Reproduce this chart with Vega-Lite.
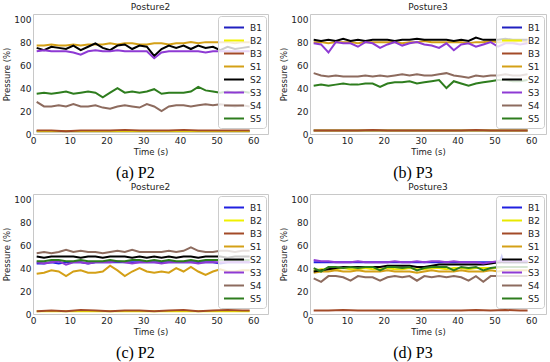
{
"$schema": "https://vega.github.io/schema/vega-lite/v6.json",
"background": "white",
"padding": {"left": 2, "top": 2, "right": 2, "bottom": 2},
"config": {
  "view": {"stroke": "#c8c8c8", "strokeWidth": 1},
  "axis": {"grid": false, "ticks": false, "domain": false, "labelFont": "DejaVu Sans", "labelFontSize": 9, "labelColor": "#222", "labelPadding": 2, "labelFlush": false, "labelOverlap": false, "titleFont": "DejaVu Sans", "titleFontSize": 8.5, "titleFontWeight": "normal", "titleColor": "#222", "titlePadding": 2},
  "title": {"font": "DejaVu Sans", "fontSize": 9, "fontWeight": "normal", "color": "#222", "offset": 2, "anchor": "middle"},
  "legend": {"orient": "top-right", "offset": 2, "title": null, "symbolType": "M-0.85,0H2.23", "symbolSize": 169, "symbolStrokeWidth": 2, "labelFont": "DejaVu Sans", "labelFontSize": 9, "labelColor": "#222", "labelOffset": 13, "fillColor": "rgba(255,255,255,0.8)", "strokeColor": "#cccccc", "cornerRadius": 3, "padding": 4, "rowPadding": 0}
},
"datasets": {"d": [
{"g":"a","s":"B1","t":1,"v":2.5},{"g":"a","s":"B1","t":15,"v":2.5},{"g":"a","s":"B1","t":30,"v":2.5},{"g":"a","s":"B1","t":45,"v":2.5},{"g":"a","s":"B1","t":59,"v":2.5},
{"g":"a","s":"B2","t":1,"v":2.5},{"g":"a","s":"B2","t":15,"v":2.5},{"g":"a","s":"B2","t":30,"v":2.5},{"g":"a","s":"B2","t":45,"v":2.5},{"g":"a","s":"B2","t":59,"v":2.5},
{"g":"a","s":"B3","t":1,"v":3},{"g":"a","s":"B3","t":5,"v":3},{"g":"a","s":"B3","t":9,"v":2.5},{"g":"a","s":"B3","t":13,"v":3},{"g":"a","s":"B3","t":17,"v":3},{"g":"a","s":"B3","t":21,"v":3},{"g":"a","s":"B3","t":25,"v":3.5},{"g":"a","s":"B3","t":29,"v":3},{"g":"a","s":"B3","t":33,"v":3},{"g":"a","s":"B3","t":37,"v":3},{"g":"a","s":"B3","t":41,"v":3.5},{"g":"a","s":"B3","t":45,"v":3},{"g":"a","s":"B3","t":49,"v":3},{"g":"a","s":"B3","t":53,"v":3},{"g":"a","s":"B3","t":57,"v":3},{"g":"a","s":"B3","t":59,"v":3},
{"g":"a","s":"S1","t":1,"v":77},{"g":"a","s":"S1","t":3,"v":77},{"g":"a","s":"S1","t":5,"v":78},{"g":"a","s":"S1","t":7,"v":77},{"g":"a","s":"S1","t":9,"v":77},{"g":"a","s":"S1","t":11,"v":78},{"g":"a","s":"S1","t":13,"v":77},{"g":"a","s":"S1","t":15,"v":78},{"g":"a","s":"S1","t":17,"v":78},{"g":"a","s":"S1","t":19,"v":78},{"g":"a","s":"S1","t":21,"v":79},{"g":"a","s":"S1","t":23,"v":78},{"g":"a","s":"S1","t":25,"v":79},{"g":"a","s":"S1","t":27,"v":79},{"g":"a","s":"S1","t":29,"v":78},{"g":"a","s":"S1","t":31,"v":78},{"g":"a","s":"S1","t":33,"v":79},{"g":"a","s":"S1","t":35,"v":79},{"g":"a","s":"S1","t":37,"v":78},{"g":"a","s":"S1","t":39,"v":79},{"g":"a","s":"S1","t":41,"v":79},{"g":"a","s":"S1","t":43,"v":80},{"g":"a","s":"S1","t":45,"v":79},{"g":"a","s":"S1","t":47,"v":80},{"g":"a","s":"S1","t":49,"v":80},{"g":"a","s":"S1","t":51,"v":80},{"g":"a","s":"S1","t":53,"v":80},{"g":"a","s":"S1","t":55,"v":79},{"g":"a","s":"S1","t":57,"v":80},{"g":"a","s":"S1","t":59,"v":80},
{"g":"a","s":"S2","t":1,"v":75},{"g":"a","s":"S2","t":3,"v":73},{"g":"a","s":"S2","t":5,"v":76},{"g":"a","s":"S2","t":7,"v":75},{"g":"a","s":"S2","t":9,"v":74},{"g":"a","s":"S2","t":11,"v":77},{"g":"a","s":"S2","t":13,"v":73},{"g":"a","s":"S2","t":15,"v":76},{"g":"a","s":"S2","t":17,"v":79},{"g":"a","s":"S2","t":19,"v":75},{"g":"a","s":"S2","t":21,"v":73},{"g":"a","s":"S2","t":23,"v":77},{"g":"a","s":"S2","t":25,"v":78},{"g":"a","s":"S2","t":27,"v":74},{"g":"a","s":"S2","t":29,"v":77},{"g":"a","s":"S2","t":31,"v":76},{"g":"a","s":"S2","t":33,"v":68},{"g":"a","s":"S2","t":35,"v":74},{"g":"a","s":"S2","t":37,"v":77},{"g":"a","s":"S2","t":39,"v":75},{"g":"a","s":"S2","t":41,"v":77},{"g":"a","s":"S2","t":43,"v":74},{"g":"a","s":"S2","t":45,"v":77},{"g":"a","s":"S2","t":47,"v":75},{"g":"a","s":"S2","t":49,"v":76},{"g":"a","s":"S2","t":51,"v":73},{"g":"a","s":"S2","t":53,"v":76},{"g":"a","s":"S2","t":55,"v":74},{"g":"a","s":"S2","t":57,"v":75},{"g":"a","s":"S2","t":59,"v":76},
{"g":"a","s":"S3","t":1,"v":72},{"g":"a","s":"S3","t":3,"v":73},{"g":"a","s":"S3","t":5,"v":72},{"g":"a","s":"S3","t":7,"v":72},{"g":"a","s":"S3","t":9,"v":72},{"g":"a","s":"S3","t":11,"v":71},{"g":"a","s":"S3","t":13,"v":69},{"g":"a","s":"S3","t":15,"v":72},{"g":"a","s":"S3","t":17,"v":73},{"g":"a","s":"S3","t":19,"v":72},{"g":"a","s":"S3","t":21,"v":72},{"g":"a","s":"S3","t":23,"v":73},{"g":"a","s":"S3","t":25,"v":72},{"g":"a","s":"S3","t":27,"v":72},{"g":"a","s":"S3","t":29,"v":72},{"g":"a","s":"S3","t":31,"v":72},{"g":"a","s":"S3","t":33,"v":66},{"g":"a","s":"S3","t":35,"v":71},{"g":"a","s":"S3","t":37,"v":72},{"g":"a","s":"S3","t":39,"v":72},{"g":"a","s":"S3","t":41,"v":72},{"g":"a","s":"S3","t":43,"v":72},{"g":"a","s":"S3","t":45,"v":72},{"g":"a","s":"S3","t":47,"v":71},{"g":"a","s":"S3","t":49,"v":72},{"g":"a","s":"S3","t":51,"v":72},{"g":"a","s":"S3","t":53,"v":72},{"g":"a","s":"S3","t":55,"v":72},{"g":"a","s":"S3","t":57,"v":72},{"g":"a","s":"S3","t":59,"v":72},
{"g":"a","s":"S4","t":1,"v":28},{"g":"a","s":"S4","t":3,"v":24},{"g":"a","s":"S4","t":5,"v":24},{"g":"a","s":"S4","t":7,"v":25},{"g":"a","s":"S4","t":9,"v":24},{"g":"a","s":"S4","t":11,"v":26},{"g":"a","s":"S4","t":13,"v":24},{"g":"a","s":"S4","t":15,"v":24},{"g":"a","s":"S4","t":17,"v":25},{"g":"a","s":"S4","t":19,"v":23},{"g":"a","s":"S4","t":21,"v":22},{"g":"a","s":"S4","t":23,"v":24},{"g":"a","s":"S4","t":25,"v":25},{"g":"a","s":"S4","t":27,"v":24},{"g":"a","s":"S4","t":29,"v":23},{"g":"a","s":"S4","t":31,"v":26},{"g":"a","s":"S4","t":33,"v":24},{"g":"a","s":"S4","t":35,"v":20},{"g":"a","s":"S4","t":37,"v":24},{"g":"a","s":"S4","t":39,"v":25},{"g":"a","s":"S4","t":41,"v":25},{"g":"a","s":"S4","t":43,"v":24},{"g":"a","s":"S4","t":45,"v":25},{"g":"a","s":"S4","t":47,"v":26},{"g":"a","s":"S4","t":49,"v":25},{"g":"a","s":"S4","t":51,"v":26},{"g":"a","s":"S4","t":53,"v":25},{"g":"a","s":"S4","t":55,"v":24},{"g":"a","s":"S4","t":57,"v":25},{"g":"a","s":"S4","t":59,"v":24},
{"g":"a","s":"S5","t":1,"v":35},{"g":"a","s":"S5","t":3,"v":36},{"g":"a","s":"S5","t":5,"v":35},{"g":"a","s":"S5","t":7,"v":36},{"g":"a","s":"S5","t":9,"v":37},{"g":"a","s":"S5","t":11,"v":35},{"g":"a","s":"S5","t":13,"v":36},{"g":"a","s":"S5","t":15,"v":37},{"g":"a","s":"S5","t":17,"v":36},{"g":"a","s":"S5","t":19,"v":32},{"g":"a","s":"S5","t":21,"v":36},{"g":"a","s":"S5","t":23,"v":40},{"g":"a","s":"S5","t":25,"v":36},{"g":"a","s":"S5","t":27,"v":37},{"g":"a","s":"S5","t":29,"v":36},{"g":"a","s":"S5","t":31,"v":37},{"g":"a","s":"S5","t":33,"v":39},{"g":"a","s":"S5","t":35,"v":35},{"g":"a","s":"S5","t":37,"v":36},{"g":"a","s":"S5","t":39,"v":36},{"g":"a","s":"S5","t":41,"v":36},{"g":"a","s":"S5","t":43,"v":37},{"g":"a","s":"S5","t":45,"v":41},{"g":"a","s":"S5","t":47,"v":38},{"g":"a","s":"S5","t":49,"v":37},{"g":"a","s":"S5","t":51,"v":36},{"g":"a","s":"S5","t":53,"v":37},{"g":"a","s":"S5","t":55,"v":36},{"g":"a","s":"S5","t":57,"v":37},{"g":"a","s":"S5","t":59,"v":36},
{"g":"b","s":"B1","t":1,"v":3},{"g":"b","s":"B1","t":15,"v":3},{"g":"b","s":"B1","t":30,"v":3},{"g":"b","s":"B1","t":45,"v":3},{"g":"b","s":"B1","t":59,"v":3},
{"g":"b","s":"B2","t":1,"v":3},{"g":"b","s":"B2","t":15,"v":3},{"g":"b","s":"B2","t":30,"v":3},{"g":"b","s":"B2","t":45,"v":3},{"g":"b","s":"B2","t":59,"v":3},
{"g":"b","s":"B3","t":1,"v":3},{"g":"b","s":"B3","t":5,"v":3},{"g":"b","s":"B3","t":9,"v":3},{"g":"b","s":"B3","t":13,"v":3},{"g":"b","s":"B3","t":17,"v":3.5},{"g":"b","s":"B3","t":21,"v":3},{"g":"b","s":"B3","t":25,"v":3},{"g":"b","s":"B3","t":29,"v":3},{"g":"b","s":"B3","t":33,"v":3},{"g":"b","s":"B3","t":37,"v":3},{"g":"b","s":"B3","t":41,"v":3},{"g":"b","s":"B3","t":45,"v":3.5},{"g":"b","s":"B3","t":49,"v":3},{"g":"b","s":"B3","t":53,"v":3},{"g":"b","s":"B3","t":57,"v":3},{"g":"b","s":"B3","t":59,"v":3},
{"g":"b","s":"S1","t":1,"v":80},{"g":"b","s":"S1","t":3,"v":80},{"g":"b","s":"S1","t":5,"v":79},{"g":"b","s":"S1","t":7,"v":80},{"g":"b","s":"S1","t":9,"v":80},{"g":"b","s":"S1","t":11,"v":80},{"g":"b","s":"S1","t":13,"v":79},{"g":"b","s":"S1","t":15,"v":80},{"g":"b","s":"S1","t":17,"v":80},{"g":"b","s":"S1","t":19,"v":80},{"g":"b","s":"S1","t":21,"v":80},{"g":"b","s":"S1","t":23,"v":80},{"g":"b","s":"S1","t":25,"v":79},{"g":"b","s":"S1","t":27,"v":80},{"g":"b","s":"S1","t":29,"v":80},{"g":"b","s":"S1","t":31,"v":81},{"g":"b","s":"S1","t":33,"v":80},{"g":"b","s":"S1","t":35,"v":80},{"g":"b","s":"S1","t":37,"v":80},{"g":"b","s":"S1","t":39,"v":80},{"g":"b","s":"S1","t":41,"v":80},{"g":"b","s":"S1","t":43,"v":79},{"g":"b","s":"S1","t":45,"v":80},{"g":"b","s":"S1","t":47,"v":80},{"g":"b","s":"S1","t":49,"v":81},{"g":"b","s":"S1","t":51,"v":80},{"g":"b","s":"S1","t":53,"v":80},{"g":"b","s":"S1","t":55,"v":80},{"g":"b","s":"S1","t":57,"v":81},{"g":"b","s":"S1","t":59,"v":80},
{"g":"b","s":"S2","t":1,"v":82},{"g":"b","s":"S2","t":3,"v":81},{"g":"b","s":"S2","t":5,"v":82},{"g":"b","s":"S2","t":7,"v":81},{"g":"b","s":"S2","t":9,"v":83},{"g":"b","s":"S2","t":11,"v":81},{"g":"b","s":"S2","t":13,"v":82},{"g":"b","s":"S2","t":15,"v":81},{"g":"b","s":"S2","t":17,"v":82},{"g":"b","s":"S2","t":19,"v":82},{"g":"b","s":"S2","t":21,"v":82},{"g":"b","s":"S2","t":23,"v":81},{"g":"b","s":"S2","t":25,"v":82},{"g":"b","s":"S2","t":27,"v":82},{"g":"b","s":"S2","t":29,"v":83},{"g":"b","s":"S2","t":31,"v":82},{"g":"b","s":"S2","t":33,"v":82},{"g":"b","s":"S2","t":35,"v":82},{"g":"b","s":"S2","t":37,"v":82},{"g":"b","s":"S2","t":39,"v":81},{"g":"b","s":"S2","t":41,"v":82},{"g":"b","s":"S2","t":43,"v":81},{"g":"b","s":"S2","t":45,"v":84},{"g":"b","s":"S2","t":47,"v":82},{"g":"b","s":"S2","t":49,"v":82},{"g":"b","s":"S2","t":51,"v":82},{"g":"b","s":"S2","t":53,"v":83},{"g":"b","s":"S2","t":55,"v":82},{"g":"b","s":"S2","t":57,"v":82},{"g":"b","s":"S2","t":59,"v":82},
{"g":"b","s":"S3","t":1,"v":79},{"g":"b","s":"S3","t":3,"v":78},{"g":"b","s":"S3","t":5,"v":71},{"g":"b","s":"S3","t":7,"v":80},{"g":"b","s":"S3","t":9,"v":79},{"g":"b","s":"S3","t":11,"v":79},{"g":"b","s":"S3","t":13,"v":76},{"g":"b","s":"S3","t":15,"v":80},{"g":"b","s":"S3","t":17,"v":79},{"g":"b","s":"S3","t":19,"v":75},{"g":"b","s":"S3","t":21,"v":78},{"g":"b","s":"S3","t":23,"v":80},{"g":"b","s":"S3","t":25,"v":77},{"g":"b","s":"S3","t":27,"v":79},{"g":"b","s":"S3","t":29,"v":80},{"g":"b","s":"S3","t":31,"v":78},{"g":"b","s":"S3","t":33,"v":77},{"g":"b","s":"S3","t":35,"v":75},{"g":"b","s":"S3","t":37,"v":79},{"g":"b","s":"S3","t":39,"v":73},{"g":"b","s":"S3","t":41,"v":78},{"g":"b","s":"S3","t":43,"v":79},{"g":"b","s":"S3","t":45,"v":76},{"g":"b","s":"S3","t":47,"v":78},{"g":"b","s":"S3","t":49,"v":80},{"g":"b","s":"S3","t":51,"v":76},{"g":"b","s":"S3","t":53,"v":79},{"g":"b","s":"S3","t":55,"v":79},{"g":"b","s":"S3","t":57,"v":78},{"g":"b","s":"S3","t":59,"v":79},
{"g":"b","s":"S4","t":1,"v":53},{"g":"b","s":"S4","t":3,"v":51},{"g":"b","s":"S4","t":5,"v":50},{"g":"b","s":"S4","t":7,"v":51},{"g":"b","s":"S4","t":9,"v":50},{"g":"b","s":"S4","t":11,"v":50},{"g":"b","s":"S4","t":13,"v":50},{"g":"b","s":"S4","t":15,"v":51},{"g":"b","s":"S4","t":17,"v":50},{"g":"b","s":"S4","t":19,"v":51},{"g":"b","s":"S4","t":21,"v":50},{"g":"b","s":"S4","t":23,"v":51},{"g":"b","s":"S4","t":25,"v":52},{"g":"b","s":"S4","t":27,"v":51},{"g":"b","s":"S4","t":29,"v":52},{"g":"b","s":"S4","t":31,"v":51},{"g":"b","s":"S4","t":33,"v":51},{"g":"b","s":"S4","t":35,"v":52},{"g":"b","s":"S4","t":37,"v":53},{"g":"b","s":"S4","t":39,"v":51},{"g":"b","s":"S4","t":41,"v":50},{"g":"b","s":"S4","t":43,"v":49},{"g":"b","s":"S4","t":45,"v":51},{"g":"b","s":"S4","t":47,"v":50},{"g":"b","s":"S4","t":49,"v":51},{"g":"b","s":"S4","t":51,"v":51},{"g":"b","s":"S4","t":53,"v":52},{"g":"b","s":"S4","t":55,"v":51},{"g":"b","s":"S4","t":57,"v":51},{"g":"b","s":"S4","t":59,"v":52},
{"g":"b","s":"S5","t":1,"v":42},{"g":"b","s":"S5","t":3,"v":43},{"g":"b","s":"S5","t":5,"v":42},{"g":"b","s":"S5","t":7,"v":43},{"g":"b","s":"S5","t":9,"v":44},{"g":"b","s":"S5","t":11,"v":43},{"g":"b","s":"S5","t":13,"v":43},{"g":"b","s":"S5","t":15,"v":44},{"g":"b","s":"S5","t":17,"v":44},{"g":"b","s":"S5","t":19,"v":41},{"g":"b","s":"S5","t":21,"v":44},{"g":"b","s":"S5","t":23,"v":45},{"g":"b","s":"S5","t":25,"v":45},{"g":"b","s":"S5","t":27,"v":46},{"g":"b","s":"S5","t":29,"v":44},{"g":"b","s":"S5","t":31,"v":45},{"g":"b","s":"S5","t":33,"v":46},{"g":"b","s":"S5","t":35,"v":47},{"g":"b","s":"S5","t":37,"v":40},{"g":"b","s":"S5","t":39,"v":46},{"g":"b","s":"S5","t":41,"v":44},{"g":"b","s":"S5","t":43,"v":42},{"g":"b","s":"S5","t":45,"v":44},{"g":"b","s":"S5","t":47,"v":45},{"g":"b","s":"S5","t":49,"v":46},{"g":"b","s":"S5","t":51,"v":47},{"g":"b","s":"S5","t":53,"v":47},{"g":"b","s":"S5","t":55,"v":46},{"g":"b","s":"S5","t":57,"v":46},{"g":"b","s":"S5","t":59,"v":47},
{"g":"c","s":"B1","t":1,"v":44},{"g":"c","s":"B1","t":3,"v":44},{"g":"c","s":"B1","t":5,"v":45},{"g":"c","s":"B1","t":7,"v":44},{"g":"c","s":"B1","t":9,"v":45},{"g":"c","s":"B1","t":11,"v":45},{"g":"c","s":"B1","t":13,"v":45},{"g":"c","s":"B1","t":15,"v":44},{"g":"c","s":"B1","t":17,"v":45},{"g":"c","s":"B1","t":19,"v":45},{"g":"c","s":"B1","t":21,"v":45},{"g":"c","s":"B1","t":23,"v":45},{"g":"c","s":"B1","t":25,"v":45},{"g":"c","s":"B1","t":27,"v":45},{"g":"c","s":"B1","t":29,"v":45},{"g":"c","s":"B1","t":31,"v":45},{"g":"c","s":"B1","t":33,"v":45},{"g":"c","s":"B1","t":35,"v":45},{"g":"c","s":"B1","t":37,"v":45},{"g":"c","s":"B1","t":39,"v":45},{"g":"c","s":"B1","t":41,"v":45},{"g":"c","s":"B1","t":43,"v":45},{"g":"c","s":"B1","t":45,"v":45},{"g":"c","s":"B1","t":47,"v":45},{"g":"c","s":"B1","t":49,"v":45},{"g":"c","s":"B1","t":51,"v":44},{"g":"c","s":"B1","t":53,"v":45},{"g":"c","s":"B1","t":55,"v":45},{"g":"c","s":"B1","t":57,"v":45},{"g":"c","s":"B1","t":59,"v":45},
{"g":"c","s":"B2","t":1,"v":2.5},{"g":"c","s":"B2","t":15,"v":2.5},{"g":"c","s":"B2","t":30,"v":2.5},{"g":"c","s":"B2","t":45,"v":2.5},{"g":"c","s":"B2","t":59,"v":2.5},
{"g":"c","s":"B3","t":1,"v":2.5},{"g":"c","s":"B3","t":5,"v":3},{"g":"c","s":"B3","t":9,"v":2.5},{"g":"c","s":"B3","t":13,"v":3.5},{"g":"c","s":"B3","t":17,"v":3},{"g":"c","s":"B3","t":21,"v":2.5},{"g":"c","s":"B3","t":25,"v":3},{"g":"c","s":"B3","t":29,"v":3},{"g":"c","s":"B3","t":33,"v":2.5},{"g":"c","s":"B3","t":37,"v":3},{"g":"c","s":"B3","t":41,"v":3.5},{"g":"c","s":"B3","t":45,"v":2.5},{"g":"c","s":"B3","t":49,"v":3},{"g":"c","s":"B3","t":53,"v":3.5},{"g":"c","s":"B3","t":57,"v":3},{"g":"c","s":"B3","t":59,"v":3},
{"g":"c","s":"S1","t":1,"v":35},{"g":"c","s":"S1","t":3,"v":36},{"g":"c","s":"S1","t":5,"v":38},{"g":"c","s":"S1","t":7,"v":37},{"g":"c","s":"S1","t":9,"v":33},{"g":"c","s":"S1","t":11,"v":37},{"g":"c","s":"S1","t":13,"v":38},{"g":"c","s":"S1","t":15,"v":36},{"g":"c","s":"S1","t":17,"v":36},{"g":"c","s":"S1","t":19,"v":37},{"g":"c","s":"S1","t":21,"v":42},{"g":"c","s":"S1","t":23,"v":38},{"g":"c","s":"S1","t":25,"v":33},{"g":"c","s":"S1","t":27,"v":37},{"g":"c","s":"S1","t":29,"v":40},{"g":"c","s":"S1","t":31,"v":37},{"g":"c","s":"S1","t":33,"v":36},{"g":"c","s":"S1","t":35,"v":37},{"g":"c","s":"S1","t":37,"v":36},{"g":"c","s":"S1","t":39,"v":40},{"g":"c","s":"S1","t":41,"v":37},{"g":"c","s":"S1","t":43,"v":41},{"g":"c","s":"S1","t":45,"v":37},{"g":"c","s":"S1","t":47,"v":34},{"g":"c","s":"S1","t":49,"v":37},{"g":"c","s":"S1","t":51,"v":39},{"g":"c","s":"S1","t":53,"v":37},{"g":"c","s":"S1","t":55,"v":37},{"g":"c","s":"S1","t":57,"v":38},{"g":"c","s":"S1","t":59,"v":38},
{"g":"c","s":"S2","t":1,"v":50},{"g":"c","s":"S2","t":3,"v":49},{"g":"c","s":"S2","t":5,"v":50},{"g":"c","s":"S2","t":7,"v":50},{"g":"c","s":"S2","t":9,"v":50},{"g":"c","s":"S2","t":11,"v":50},{"g":"c","s":"S2","t":13,"v":49},{"g":"c","s":"S2","t":15,"v":50},{"g":"c","s":"S2","t":17,"v":50},{"g":"c","s":"S2","t":19,"v":49},{"g":"c","s":"S2","t":21,"v":50},{"g":"c","s":"S2","t":23,"v":50},{"g":"c","s":"S2","t":25,"v":50},{"g":"c","s":"S2","t":27,"v":49},{"g":"c","s":"S2","t":29,"v":50},{"g":"c","s":"S2","t":31,"v":49},{"g":"c","s":"S2","t":33,"v":50},{"g":"c","s":"S2","t":35,"v":49},{"g":"c","s":"S2","t":37,"v":50},{"g":"c","s":"S2","t":39,"v":49},{"g":"c","s":"S2","t":41,"v":50},{"g":"c","s":"S2","t":43,"v":50},{"g":"c","s":"S2","t":45,"v":49},{"g":"c","s":"S2","t":47,"v":50},{"g":"c","s":"S2","t":49,"v":50},{"g":"c","s":"S2","t":51,"v":50},{"g":"c","s":"S2","t":53,"v":49},{"g":"c","s":"S2","t":55,"v":50},{"g":"c","s":"S2","t":57,"v":50},{"g":"c","s":"S2","t":59,"v":50},
{"g":"c","s":"S3","t":1,"v":45},{"g":"c","s":"S3","t":3,"v":44},{"g":"c","s":"S3","t":5,"v":45},{"g":"c","s":"S3","t":7,"v":46},{"g":"c","s":"S3","t":9,"v":43},{"g":"c","s":"S3","t":11,"v":45},{"g":"c","s":"S3","t":13,"v":45},{"g":"c","s":"S3","t":15,"v":44},{"g":"c","s":"S3","t":17,"v":45},{"g":"c","s":"S3","t":19,"v":45},{"g":"c","s":"S3","t":21,"v":45},{"g":"c","s":"S3","t":23,"v":46},{"g":"c","s":"S3","t":25,"v":45},{"g":"c","s":"S3","t":27,"v":44},{"g":"c","s":"S3","t":29,"v":45},{"g":"c","s":"S3","t":31,"v":45},{"g":"c","s":"S3","t":33,"v":45},{"g":"c","s":"S3","t":35,"v":44},{"g":"c","s":"S3","t":37,"v":45},{"g":"c","s":"S3","t":39,"v":45},{"g":"c","s":"S3","t":41,"v":45},{"g":"c","s":"S3","t":43,"v":45},{"g":"c","s":"S3","t":45,"v":44},{"g":"c","s":"S3","t":47,"v":45},{"g":"c","s":"S3","t":49,"v":45},{"g":"c","s":"S3","t":51,"v":45},{"g":"c","s":"S3","t":53,"v":45},{"g":"c","s":"S3","t":55,"v":45},{"g":"c","s":"S3","t":57,"v":45},{"g":"c","s":"S3","t":59,"v":45},
{"g":"c","s":"S4","t":1,"v":53},{"g":"c","s":"S4","t":3,"v":54},{"g":"c","s":"S4","t":5,"v":53},{"g":"c","s":"S4","t":7,"v":54},{"g":"c","s":"S4","t":9,"v":56},{"g":"c","s":"S4","t":11,"v":54},{"g":"c","s":"S4","t":13,"v":55},{"g":"c","s":"S4","t":15,"v":54},{"g":"c","s":"S4","t":17,"v":54},{"g":"c","s":"S4","t":19,"v":53},{"g":"c","s":"S4","t":21,"v":54},{"g":"c","s":"S4","t":23,"v":55},{"g":"c","s":"S4","t":25,"v":54},{"g":"c","s":"S4","t":27,"v":56},{"g":"c","s":"S4","t":29,"v":54},{"g":"c","s":"S4","t":31,"v":54},{"g":"c","s":"S4","t":33,"v":54},{"g":"c","s":"S4","t":35,"v":54},{"g":"c","s":"S4","t":37,"v":55},{"g":"c","s":"S4","t":39,"v":54},{"g":"c","s":"S4","t":41,"v":55},{"g":"c","s":"S4","t":43,"v":58},{"g":"c","s":"S4","t":45,"v":55},{"g":"c","s":"S4","t":47,"v":54},{"g":"c","s":"S4","t":49,"v":54},{"g":"c","s":"S4","t":51,"v":55},{"g":"c","s":"S4","t":53,"v":55},{"g":"c","s":"S4","t":55,"v":54},{"g":"c","s":"S4","t":57,"v":55},{"g":"c","s":"S4","t":59,"v":55},
{"g":"c","s":"S5","t":1,"v":46},{"g":"c","s":"S5","t":3,"v":46},{"g":"c","s":"S5","t":5,"v":47},{"g":"c","s":"S5","t":7,"v":47},{"g":"c","s":"S5","t":9,"v":46},{"g":"c","s":"S5","t":11,"v":46},{"g":"c","s":"S5","t":13,"v":47},{"g":"c","s":"S5","t":15,"v":46},{"g":"c","s":"S5","t":17,"v":46},{"g":"c","s":"S5","t":19,"v":46},{"g":"c","s":"S5","t":21,"v":47},{"g":"c","s":"S5","t":23,"v":46},{"g":"c","s":"S5","t":25,"v":46},{"g":"c","s":"S5","t":27,"v":47},{"g":"c","s":"S5","t":29,"v":47},{"g":"c","s":"S5","t":31,"v":46},{"g":"c","s":"S5","t":33,"v":47},{"g":"c","s":"S5","t":35,"v":46},{"g":"c","s":"S5","t":37,"v":47},{"g":"c","s":"S5","t":39,"v":46},{"g":"c","s":"S5","t":41,"v":46},{"g":"c","s":"S5","t":43,"v":47},{"g":"c","s":"S5","t":45,"v":46},{"g":"c","s":"S5","t":47,"v":47},{"g":"c","s":"S5","t":49,"v":47},{"g":"c","s":"S5","t":51,"v":47},{"g":"c","s":"S5","t":53,"v":47},{"g":"c","s":"S5","t":55,"v":47},{"g":"c","s":"S5","t":57,"v":47},{"g":"c","s":"S5","t":59,"v":47},
{"g":"d","s":"B1","t":1,"v":45},{"g":"d","s":"B1","t":9,"v":45},{"g":"d","s":"B1","t":17,"v":45},{"g":"d","s":"B1","t":25,"v":45},{"g":"d","s":"B1","t":33,"v":45},{"g":"d","s":"B1","t":41,"v":45},{"g":"d","s":"B1","t":49,"v":45},{"g":"d","s":"B1","t":51.5,"v":45},{"g":"d","s":"B1","t":52,"v":50},{"g":"d","s":"B1","t":52.5,"v":45},{"g":"d","s":"B1","t":59,"v":45},
{"g":"d","s":"B2","t":1,"v":38},{"g":"d","s":"B2","t":3,"v":39},{"g":"d","s":"B2","t":5,"v":39},{"g":"d","s":"B2","t":7,"v":39},{"g":"d","s":"B2","t":9,"v":40},{"g":"d","s":"B2","t":11,"v":39},{"g":"d","s":"B2","t":13,"v":39},{"g":"d","s":"B2","t":15,"v":40},{"g":"d","s":"B2","t":17,"v":39},{"g":"d","s":"B2","t":19,"v":39},{"g":"d","s":"B2","t":21,"v":40},{"g":"d","s":"B2","t":23,"v":39},{"g":"d","s":"B2","t":25,"v":39},{"g":"d","s":"B2","t":27,"v":40},{"g":"d","s":"B2","t":29,"v":39},{"g":"d","s":"B2","t":31,"v":39},{"g":"d","s":"B2","t":33,"v":40},{"g":"d","s":"B2","t":35,"v":40},{"g":"d","s":"B2","t":37,"v":39},{"g":"d","s":"B2","t":39,"v":40},{"g":"d","s":"B2","t":41,"v":40},{"g":"d","s":"B2","t":43,"v":39},{"g":"d","s":"B2","t":45,"v":40},{"g":"d","s":"B2","t":47,"v":40},{"g":"d","s":"B2","t":49,"v":40},{"g":"d","s":"B2","t":51,"v":40},{"g":"d","s":"B2","t":53,"v":41},{"g":"d","s":"B2","t":55,"v":41},{"g":"d","s":"B2","t":57,"v":41},{"g":"d","s":"B2","t":59,"v":41},
{"g":"d","s":"B3","t":1,"v":3},{"g":"d","s":"B3","t":5,"v":3},{"g":"d","s":"B3","t":9,"v":3.5},{"g":"d","s":"B3","t":13,"v":3},{"g":"d","s":"B3","t":17,"v":3},{"g":"d","s":"B3","t":21,"v":3},{"g":"d","s":"B3","t":25,"v":3},{"g":"d","s":"B3","t":29,"v":3},{"g":"d","s":"B3","t":33,"v":3},{"g":"d","s":"B3","t":37,"v":3},{"g":"d","s":"B3","t":41,"v":3},{"g":"d","s":"B3","t":45,"v":3.5},{"g":"d","s":"B3","t":49,"v":3},{"g":"d","s":"B3","t":53,"v":3.5},{"g":"d","s":"B3","t":57,"v":3},{"g":"d","s":"B3","t":59,"v":3},
{"g":"d","s":"S1","t":1,"v":36},{"g":"d","s":"S1","t":3,"v":37},{"g":"d","s":"S1","t":5,"v":37},{"g":"d","s":"S1","t":7,"v":38},{"g":"d","s":"S1","t":9,"v":37},{"g":"d","s":"S1","t":11,"v":37},{"g":"d","s":"S1","t":13,"v":38},{"g":"d","s":"S1","t":15,"v":37},{"g":"d","s":"S1","t":17,"v":37},{"g":"d","s":"S1","t":19,"v":37},{"g":"d","s":"S1","t":21,"v":38},{"g":"d","s":"S1","t":23,"v":37},{"g":"d","s":"S1","t":25,"v":37},{"g":"d","s":"S1","t":27,"v":37},{"g":"d","s":"S1","t":29,"v":36},{"g":"d","s":"S1","t":31,"v":37},{"g":"d","s":"S1","t":33,"v":38},{"g":"d","s":"S1","t":35,"v":37},{"g":"d","s":"S1","t":37,"v":37},{"g":"d","s":"S1","t":39,"v":37},{"g":"d","s":"S1","t":41,"v":38},{"g":"d","s":"S1","t":43,"v":37},{"g":"d","s":"S1","t":45,"v":37},{"g":"d","s":"S1","t":47,"v":37},{"g":"d","s":"S1","t":49,"v":38},{"g":"d","s":"S1","t":51,"v":37},{"g":"d","s":"S1","t":53,"v":38},{"g":"d","s":"S1","t":55,"v":38},{"g":"d","s":"S1","t":57,"v":38},{"g":"d","s":"S1","t":59,"v":38},
{"g":"d","s":"S2","t":1,"v":37},{"g":"d","s":"S2","t":3,"v":38},{"g":"d","s":"S2","t":5,"v":39},{"g":"d","s":"S2","t":7,"v":40},{"g":"d","s":"S2","t":9,"v":41},{"g":"d","s":"S2","t":11,"v":41},{"g":"d","s":"S2","t":13,"v":41},{"g":"d","s":"S2","t":15,"v":41},{"g":"d","s":"S2","t":17,"v":41},{"g":"d","s":"S2","t":19,"v":41},{"g":"d","s":"S2","t":21,"v":42},{"g":"d","s":"S2","t":23,"v":42},{"g":"d","s":"S2","t":25,"v":42},{"g":"d","s":"S2","t":27,"v":42},{"g":"d","s":"S2","t":29,"v":41},{"g":"d","s":"S2","t":31,"v":41},{"g":"d","s":"S2","t":33,"v":42},{"g":"d","s":"S2","t":35,"v":43},{"g":"d","s":"S2","t":37,"v":43},{"g":"d","s":"S2","t":39,"v":43},{"g":"d","s":"S2","t":41,"v":43},{"g":"d","s":"S2","t":43,"v":43},{"g":"d","s":"S2","t":45,"v":43},{"g":"d","s":"S2","t":47,"v":43},{"g":"d","s":"S2","t":49,"v":44},{"g":"d","s":"S2","t":51,"v":45},{"g":"d","s":"S2","t":53,"v":45},{"g":"d","s":"S2","t":55,"v":45},{"g":"d","s":"S2","t":57,"v":45},{"g":"d","s":"S2","t":59,"v":45},
{"g":"d","s":"S3","t":1,"v":47},{"g":"d","s":"S3","t":3,"v":46},{"g":"d","s":"S3","t":5,"v":46},{"g":"d","s":"S3","t":7,"v":45},{"g":"d","s":"S3","t":9,"v":45},{"g":"d","s":"S3","t":11,"v":45},{"g":"d","s":"S3","t":13,"v":46},{"g":"d","s":"S3","t":15,"v":45},{"g":"d","s":"S3","t":17,"v":45},{"g":"d","s":"S3","t":19,"v":45},{"g":"d","s":"S3","t":21,"v":45},{"g":"d","s":"S3","t":23,"v":46},{"g":"d","s":"S3","t":25,"v":45},{"g":"d","s":"S3","t":27,"v":45},{"g":"d","s":"S3","t":29,"v":46},{"g":"d","s":"S3","t":31,"v":45},{"g":"d","s":"S3","t":33,"v":46},{"g":"d","s":"S3","t":35,"v":46},{"g":"d","s":"S3","t":37,"v":45},{"g":"d","s":"S3","t":39,"v":46},{"g":"d","s":"S3","t":41,"v":45},{"g":"d","s":"S3","t":43,"v":45},{"g":"d","s":"S3","t":45,"v":45},{"g":"d","s":"S3","t":47,"v":44},{"g":"d","s":"S3","t":49,"v":45},{"g":"d","s":"S3","t":51,"v":46},{"g":"d","s":"S3","t":53,"v":46},{"g":"d","s":"S3","t":55,"v":46},{"g":"d","s":"S3","t":57,"v":46},{"g":"d","s":"S3","t":59,"v":46},
{"g":"d","s":"S4","t":1,"v":31},{"g":"d","s":"S4","t":3,"v":28},{"g":"d","s":"S4","t":5,"v":33},{"g":"d","s":"S4","t":7,"v":33},{"g":"d","s":"S4","t":9,"v":32},{"g":"d","s":"S4","t":11,"v":29},{"g":"d","s":"S4","t":13,"v":33},{"g":"d","s":"S4","t":15,"v":32},{"g":"d","s":"S4","t":17,"v":32},{"g":"d","s":"S4","t":19,"v":29},{"g":"d","s":"S4","t":21,"v":32},{"g":"d","s":"S4","t":23,"v":33},{"g":"d","s":"S4","t":25,"v":32},{"g":"d","s":"S4","t":27,"v":33},{"g":"d","s":"S4","t":29,"v":29},{"g":"d","s":"S4","t":31,"v":33},{"g":"d","s":"S4","t":33,"v":32},{"g":"d","s":"S4","t":35,"v":33},{"g":"d","s":"S4","t":37,"v":32},{"g":"d","s":"S4","t":39,"v":33},{"g":"d","s":"S4","t":41,"v":32},{"g":"d","s":"S4","t":43,"v":29},{"g":"d","s":"S4","t":45,"v":33},{"g":"d","s":"S4","t":47,"v":28},{"g":"d","s":"S4","t":49,"v":33},{"g":"d","s":"S4","t":51,"v":33},{"g":"d","s":"S4","t":53,"v":33},{"g":"d","s":"S4","t":55,"v":33},{"g":"d","s":"S4","t":57,"v":33},{"g":"d","s":"S4","t":59,"v":33},
{"g":"d","s":"S5","t":1,"v":40},{"g":"d","s":"S5","t":3,"v":37},{"g":"d","s":"S5","t":5,"v":41},{"g":"d","s":"S5","t":7,"v":41},{"g":"d","s":"S5","t":9,"v":40},{"g":"d","s":"S5","t":11,"v":41},{"g":"d","s":"S5","t":13,"v":40},{"g":"d","s":"S5","t":15,"v":41},{"g":"d","s":"S5","t":17,"v":41},{"g":"d","s":"S5","t":19,"v":38},{"g":"d","s":"S5","t":21,"v":41},{"g":"d","s":"S5","t":23,"v":41},{"g":"d","s":"S5","t":25,"v":40},{"g":"d","s":"S5","t":27,"v":41},{"g":"d","s":"S5","t":29,"v":38},{"g":"d","s":"S5","t":31,"v":40},{"g":"d","s":"S5","t":33,"v":41},{"g":"d","s":"S5","t":35,"v":41},{"g":"d","s":"S5","t":37,"v":41},{"g":"d","s":"S5","t":39,"v":38},{"g":"d","s":"S5","t":41,"v":41},{"g":"d","s":"S5","t":43,"v":40},{"g":"d","s":"S5","t":45,"v":41},{"g":"d","s":"S5","t":47,"v":38},{"g":"d","s":"S5","t":49,"v":40},{"g":"d","s":"S5","t":51,"v":41},{"g":"d","s":"S5","t":53,"v":41},{"g":"d","s":"S5","t":55,"v":41},{"g":"d","s":"S5","t":57,"v":41},{"g":"d","s":"S5","t":59,"v":41}
]},
"spacing": 1,
"resolve": {"scale": {"color": "independent"}, "legend": {"color": "independent"}},
"vconcat": [
 {"spacing": 10, "resolve": {"scale": {"color": "independent"}, "legend": {"color": "independent"}},
  "hconcat": [
   {"title": {"text": "(a) P2", "orient": "bottom", "font": "Liberation Serif", "fontSize": 16, "color": "#000", "offset": 9},
    "resolve": {"scale": {"color": "independent"}, "legend": {"color": "independent"}},
    "vconcat": [{"width": 235, "height": 120, "title": "Posture2", "data": {"name": "d"}, "transform": [{"filter": "datum.g == 'a'"}],
      "mark": {"type": "line", "strokeWidth": 2, "clip": true},
      "encoding": {
        "x": {"field": "t", "type": "quantitative", "scale": {"domain": [0, 64], "nice": false, "zero": false}, "axis": {"values": [0,10,20,30,40,50,60], "title": "Time (s)"}},
        "y": {"field": "v", "type": "quantitative", "scale": {"domain": [0, 104.5], "nice": false}, "axis": {"values": [0,20,40,60,80,100], "title": "Pressure (%)"}},
        "color": {"field": "s", "type": "nominal", "scale": {"domain": ["B1","B2","B3","S1","S2","S3","S4","S5"], "range": ["#2020c0","#f0f000","#a34a28","#d4a017","#000000","#8e3ad4","#8d6b5e","#2e7d1e"]}}
      }}]},
   {"title": {"text": "(b) P3", "orient": "bottom", "font": "Liberation Serif", "fontSize": 16, "color": "#000", "offset": 9},
    "resolve": {"scale": {"color": "independent"}, "legend": {"color": "independent"}},
    "vconcat": [{"width": 236, "height": 120, "title": "Posture3", "data": {"name": "d"}, "transform": [{"filter": "datum.g == 'b'"}],
      "mark": {"type": "line", "strokeWidth": 2, "clip": true},
      "encoding": {
        "x": {"field": "t", "type": "quantitative", "scale": {"domain": [0, 64], "nice": false, "zero": false}, "axis": {"values": [0,10,20,30,40,50,60], "title": "Time (s)"}},
        "y": {"field": "v", "type": "quantitative", "scale": {"domain": [0, 104.5], "nice": false}, "axis": {"values": [0,20,40,60,80,100], "title": "Pressure (%)"}},
        "color": {"field": "s", "type": "nominal", "scale": {"domain": ["B1","B2","B3","S1","S2","S3","S4","S5"], "range": ["#2020c0","#f0f000","#a34a28","#d4a017","#000000","#8e3ad4","#8d6b5e","#2e7d1e"]}}
      }}]}
  ]},
 {"spacing": 10, "resolve": {"scale": {"color": "independent"}, "legend": {"color": "independent"}},
  "hconcat": [
   {"title": {"text": "(c) P2", "orient": "bottom", "font": "Liberation Serif", "fontSize": 16, "color": "#000", "offset": 9},
    "resolve": {"scale": {"color": "independent"}, "legend": {"color": "independent"}},
    "vconcat": [{"width": 235, "height": 120, "title": "Posture2", "data": {"name": "d"}, "transform": [{"filter": "datum.g == 'c'"}],
      "mark": {"type": "line", "strokeWidth": 2, "clip": true},
      "encoding": {
        "x": {"field": "t", "type": "quantitative", "scale": {"domain": [0, 64], "nice": false, "zero": false}, "axis": {"values": [0,10,20,30,40,50,60], "title": "Time (s)"}},
        "y": {"field": "v", "type": "quantitative", "scale": {"domain": [0, 104.5], "nice": false}, "axis": {"values": [0,20,40,60,80,100], "title": "Pressure (%)"}},
        "color": {"field": "s", "type": "nominal", "scale": {"domain": ["B1","B2","B3","S1","S2","S3","S4","S5"], "range": ["#2020e0","#f0f000","#a34a28","#d4a017","#000000","#8e3ad4","#8d6b5e","#2e7d1e"]}}
      }}]},
   {"title": {"text": "(d) P3", "orient": "bottom", "font": "Liberation Serif", "fontSize": 16, "color": "#000", "offset": 9},
    "resolve": {"scale": {"color": "independent"}, "legend": {"color": "independent"}},
    "vconcat": [{"width": 236, "height": 120, "title": "Posture3", "data": {"name": "d"}, "transform": [{"filter": "datum.g == 'd'"}],
      "mark": {"type": "line", "strokeWidth": 2, "clip": true},
      "encoding": {
        "x": {"field": "t", "type": "quantitative", "scale": {"domain": [0, 64], "nice": false, "zero": false}, "axis": {"values": [0,10,20,30,40,50,60], "title": "Time (s)"}},
        "y": {"field": "v", "type": "quantitative", "scale": {"domain": [0, 104.5], "nice": false}, "axis": {"values": [0,20,40,60,80,100], "title": "Pressure (%)"}},
        "color": {"field": "s", "type": "nominal", "scale": {"domain": ["B1","B2","B3","S1","S2","S3","S4","S5"], "range": ["#2020e0","#e8e800","#a34a28","#d4a017","#000000","#8e3ad4","#8d6b5e","#2e7d1e"]}}
      }}]}
  ]}
]
}
